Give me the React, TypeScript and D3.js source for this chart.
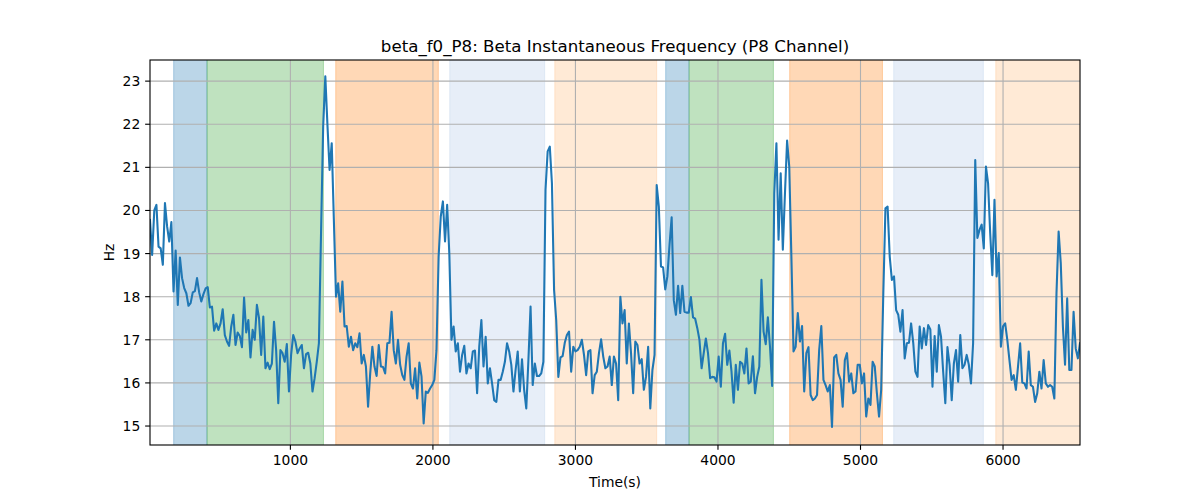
import React from "react";
import * as d3 from "d3";

// ---- data ----
const T0 = 15; // first sample time (s)
const DT = 15; // sampling interval (s)

const freqHz: number[] = [
  // 15 .. ~810 s
  19.78, 18.97, 20.0, 20.13, 19.16, 19.12, 18.74, 20.17, 19.63, 19.28,
  19.73, 18.12, 19.07, 17.81, 18.91, 18.43, 18.2, 18.08, 17.79, 17.85,
  18.1, 18.13, 18.43, 18.1, 17.89, 18.06, 18.19, 18.22, 17.75, 17.77,
  17.21, 17.38, 17.23, 17.38, 17.71, 17.11, 16.96, 16.86, 17.31, 17.58,
  16.88, 17.17, 17.09, 16.83, 17.98, 17.17, 17.46, 16.59, 17.23, 17.0,
  17.81, 17.5, 16.65, 17.54,
  // ~825 .. 1620
  16.34, 16.47, 16.32, 16.45, 17.42, 16.76, 15.53, 16.76, 16.69, 16.49,
  16.9, 15.8, 16.65, 17.11, 16.96, 16.69, 16.8, 16.88, 16.34, 16.67,
  16.7, 16.45, 15.8, 16.11, 16.49, 16.92, 19.47, 21.95, 23.11, 21.98,
  20.94, 21.56, 19.78, 18.0, 18.31, 17.65, 18.35, 17.31, 17.32, 16.84,
  17.07, 16.76, 16.92, 16.83, 17.15, 16.45, 16.65, 16.38, 15.45, 16.22,
  16.84, 16.38, 16.16, 16.88,
  // ~1635 .. 2460
  16.38, 16.37, 16.22, 16.92, 16.93, 17.65, 16.76, 16.45, 17.0, 16.42,
  16.18, 16.07, 16.61, 16.92, 15.99, 15.87, 16.34, 15.64, 16.47, 16.15,
  15.06, 15.8, 15.77, 15.87, 15.95, 16.07, 16.76, 18.93, 19.86, 20.21,
  19.28, 20.13, 19.0, 17.0, 17.31, 16.73, 16.92, 16.26, 16.65, 16.86,
  16.22, 16.45, 16.34, 16.73, 16.75, 15.76, 16.84, 17.46, 16.38, 17.07,
  15.99, 16.34, 15.99, 15.6, 15.56, 16.07,
  // ~2475 .. 3270
  16.07, 16.26, 16.49, 16.92, 16.73, 16.42, 15.8, 16.3, 16.73, 15.8,
  16.55, 15.84, 15.41, 16.53, 17.77, 15.95, 16.45, 16.16, 16.16, 16.22,
  16.49, 20.48, 21.37, 21.48, 20.63, 18.16, 17.46, 16.14, 16.59, 16.62,
  16.93, 17.11, 17.19, 16.26, 16.84, 16.73, 16.76, 16.84, 17.0, 16.65,
  16.18, 16.73, 16.76, 15.76, 16.18, 16.26, 16.69, 17.01, 16.61, 16.34,
  16.38, 16.61, 15.95, 16.61,
  // ~3285 .. 4080
  16.45, 15.6, 18.0, 17.38, 17.69, 16.45, 17.38, 16.69, 15.76, 16.96,
  16.88, 16.45, 16.55, 15.84, 16.14, 16.84, 15.41, 16.3, 16.65, 20.59,
  20.09, 18.7, 18.68, 18.17, 18.47, 19.2, 19.84, 17.92, 17.58, 18.25,
  17.62, 18.25, 17.65, 17.63, 17.63, 17.99, 17.52, 17.49, 17.27, 17.0,
  16.34, 16.69, 17.03, 16.69, 16.11, 16.14, 16.13, 16.03, 16.61, 15.91,
  16.92, 17.14, 16.42, 16.75,
  // ~4095 .. 4890
  16.26, 15.54, 16.42, 15.84, 16.49, 16.45, 16.22, 16.8, 15.99, 16.03,
  16.62, 15.76, 16.14, 16.38, 18.39, 17.19, 16.9, 17.52, 16.84, 15.93,
  20.4, 21.56, 19.32, 20.86, 19.09, 20.4, 21.62, 21.02, 18.93, 16.73,
  16.84, 17.62, 16.96, 17.32, 15.8, 16.69, 16.83, 15.72, 15.6, 15.64,
  15.72, 16.76, 17.32, 16.07, 15.95, 15.8, 15.95, 14.98, 16.59, 16.65,
  16.22, 16.07, 15.45, 16.53,
  // ~4905 .. 5700
  16.69, 16.03, 16.22, 15.76, 15.8, 16.42, 16.42, 15.99, 16.22, 15.22,
  15.64, 15.49, 16.49, 16.38, 15.76, 15.22, 15.84, 18.08, 20.05, 20.09,
  18.93, 18.39, 18.47, 17.69, 17.58, 17.19, 17.69, 16.57, 16.92, 16.93,
  17.38, 16.93, 16.26, 16.14, 17.31, 16.8, 17.27, 16.88, 17.34, 17.24,
  15.91, 17.09, 16.26, 17.34, 17.07, 16.26, 15.53, 16.83, 16.42, 15.6,
  16.45, 16.76, 16.03, 17.11,
  // ~5715 .. 6540
  16.34, 16.42, 16.65, 16.42, 15.99, 16.92, 21.17, 19.36, 19.55, 19.67,
  19.12, 21.02, 20.63, 19.47, 18.5, 20.25, 18.47, 19.01, 16.84, 17.31,
  17.38, 17.0, 16.53, 16.07, 16.18, 15.84, 16.38, 16.92, 16.01, 15.99,
  15.87, 16.73, 15.95, 15.91, 15.56, 15.76, 16.26, 15.87, 16.53, 15.99,
  15.91, 15.95, 15.91, 15.64, 18.08, 19.51, 18.78, 17.31, 16.42, 17.96,
  16.3, 16.3, 17.65, 16.8, 16.57, 16.92,
];

const spanStart: number[] = [181, 415, 1318, 2118, 2855, 3633, 3797, 4503, 5233, 5949];
const spanEnd: number[] = [415, 1232, 2038, 2784, 3570, 3797, 4389, 5154, 5862, 6600];
const spanKind: string[] = [
  "blue", "green", "orange", "lightblue", "lightorange",
  "blue", "green", "orange", "lightblue", "lightorange",
];

const xTicks: number[] = [1000, 2000, 3000, 4000, 5000, 6000];
const yTicks: number[] = [15, 16, 17, 18, 19, 20, 21, 22, 23];

const TITLE = "beta_f0_P8: Beta Instantaneous Frequency (P8 Channel)";
const XLABEL = "Time(s)";
const YLABEL = "Hz";

// ---- styling ----
const W = 1200;
const H = 500;
const M = { left: 150, right: 1080, top: 60, bottom: 445 };
const FONT = "DejaVu Sans, sans-serif";
const PT = 100 / 72;
const kindColor: Record<string, string> = {
  blue: "#1f77b4",
  green: "#2ca02c",
  orange: "#ff7f0e",
  lightblue: "#aec7e8",
  lightorange: "#ffbb78",
};

export default function App() {
  const data = freqHz.map((v, i) => ({ t: T0 + i * DT, v }));
  const x = d3
    .scaleLinear()
    .domain([data[0].t, data[data.length - 1].t])
    .range([M.left, M.right]);
  const y = d3.scaleLinear().domain([14.56, 23.49]).range([M.bottom, M.top]);

  const line = d3
    .line<{ t: number; v: number }>()
    .x((d) => x(d.t))
    .y((d) => y(d.v));

  const cx = (M.left + M.right) / 2;
  const cy = (M.top + M.bottom) / 2;
  const tickLen = 3.5 * PT;
  const tickFs = 10 * PT;
  const lw = 0.8 * PT;

  return (
    <svg
      width={W}
      height={H}
      style={{ position: "absolute", left: 0, top: 0, background: "#fff" }}
      fontFamily={FONT}
    >
      <rect x={0} y={0} width={W} height={H} fill="#fff" />
      <defs>
        <clipPath id="plotclip">
          <rect x={M.left} y={M.top} width={M.right - M.left} height={M.bottom - M.top} />
        </clipPath>
      </defs>
      <g clipPath="url(#plotclip)">
        {spanStart.map((s, i) => {
          const x0 = x(s);
          const x1 = x(spanEnd[i]);
          const c = kindColor[spanKind[i]];
          return (
            <rect
              key={"sp" + i}
              x={x0}
              y={M.top - 2}
              width={x1 - x0}
              height={M.bottom - M.top + 4}
              fill={c}
              fillOpacity={0.3}
              stroke={c}
              strokeOpacity={0.3}
              strokeWidth={1}
            />
          );
        })}
        {xTicks.map((t) => (
          <line
            key={"gx" + t}
            x1={x(t)}
            x2={x(t)}
            y1={M.top}
            y2={M.bottom}
            stroke="#b0b0b0"
            strokeWidth={lw}
          />
        ))}
        {yTicks.map((v) => (
          <line
            key={"gy" + v}
            x1={M.left}
            x2={M.right}
            y1={y(v)}
            y2={y(v)}
            stroke="#b0b0b0"
            strokeWidth={lw}
          />
        ))}
        <path
          d={line(data) || ""}
          fill="none"
          stroke="#1f77b4"
          strokeWidth={1.5 * PT}
          strokeLinejoin="round"
          strokeLinecap="square"
        />
      </g>
      {/* spines */}
      <rect
        x={M.left}
        y={M.top}
        width={M.right - M.left}
        height={M.bottom - M.top}
        fill="none"
        stroke="#000"
        strokeWidth={lw}
      />
      {/* x ticks */}
      {xTicks.map((t) => (
        <g key={"xt" + t}>
          <line x1={x(t)} x2={x(t)} y1={M.bottom} y2={M.bottom + tickLen} stroke="#000" strokeWidth={lw} />
          <text x={x(t)} y={M.bottom + 20.3} textAnchor="middle" fontSize={tickFs} fill="#000">
            {t}
          </text>
        </g>
      ))}
      {/* y ticks */}
      {yTicks.map((v) => (
        <g key={"yt" + v}>
          <line x1={M.left - tickLen} x2={M.left} y1={y(v)} y2={y(v)} stroke="#000" strokeWidth={lw} />
          <text
            x={M.left - 2 * tickLen}
            y={y(v)}
            dy="0.36em"
            textAnchor="end"
            fontSize={tickFs}
            fill="#000"
          >
            {v}
          </text>
        </g>
      ))}
      <text x={cx} y={M.top - 6 * PT} textAnchor="middle" fontSize={12 * PT} fill="#000">
        {TITLE}
      </text>
      <text x={cx} y={487} textAnchor="middle" fontSize={tickFs} fill="#000">
        {XLABEL}
      </text>
      <text
        transform={`translate(114, ${cy}) rotate(-90)`}
        textAnchor="middle"
        fontSize={tickFs}
        fill="#000"
      >
        {YLABEL}
      </text>
    </svg>
  );
}
